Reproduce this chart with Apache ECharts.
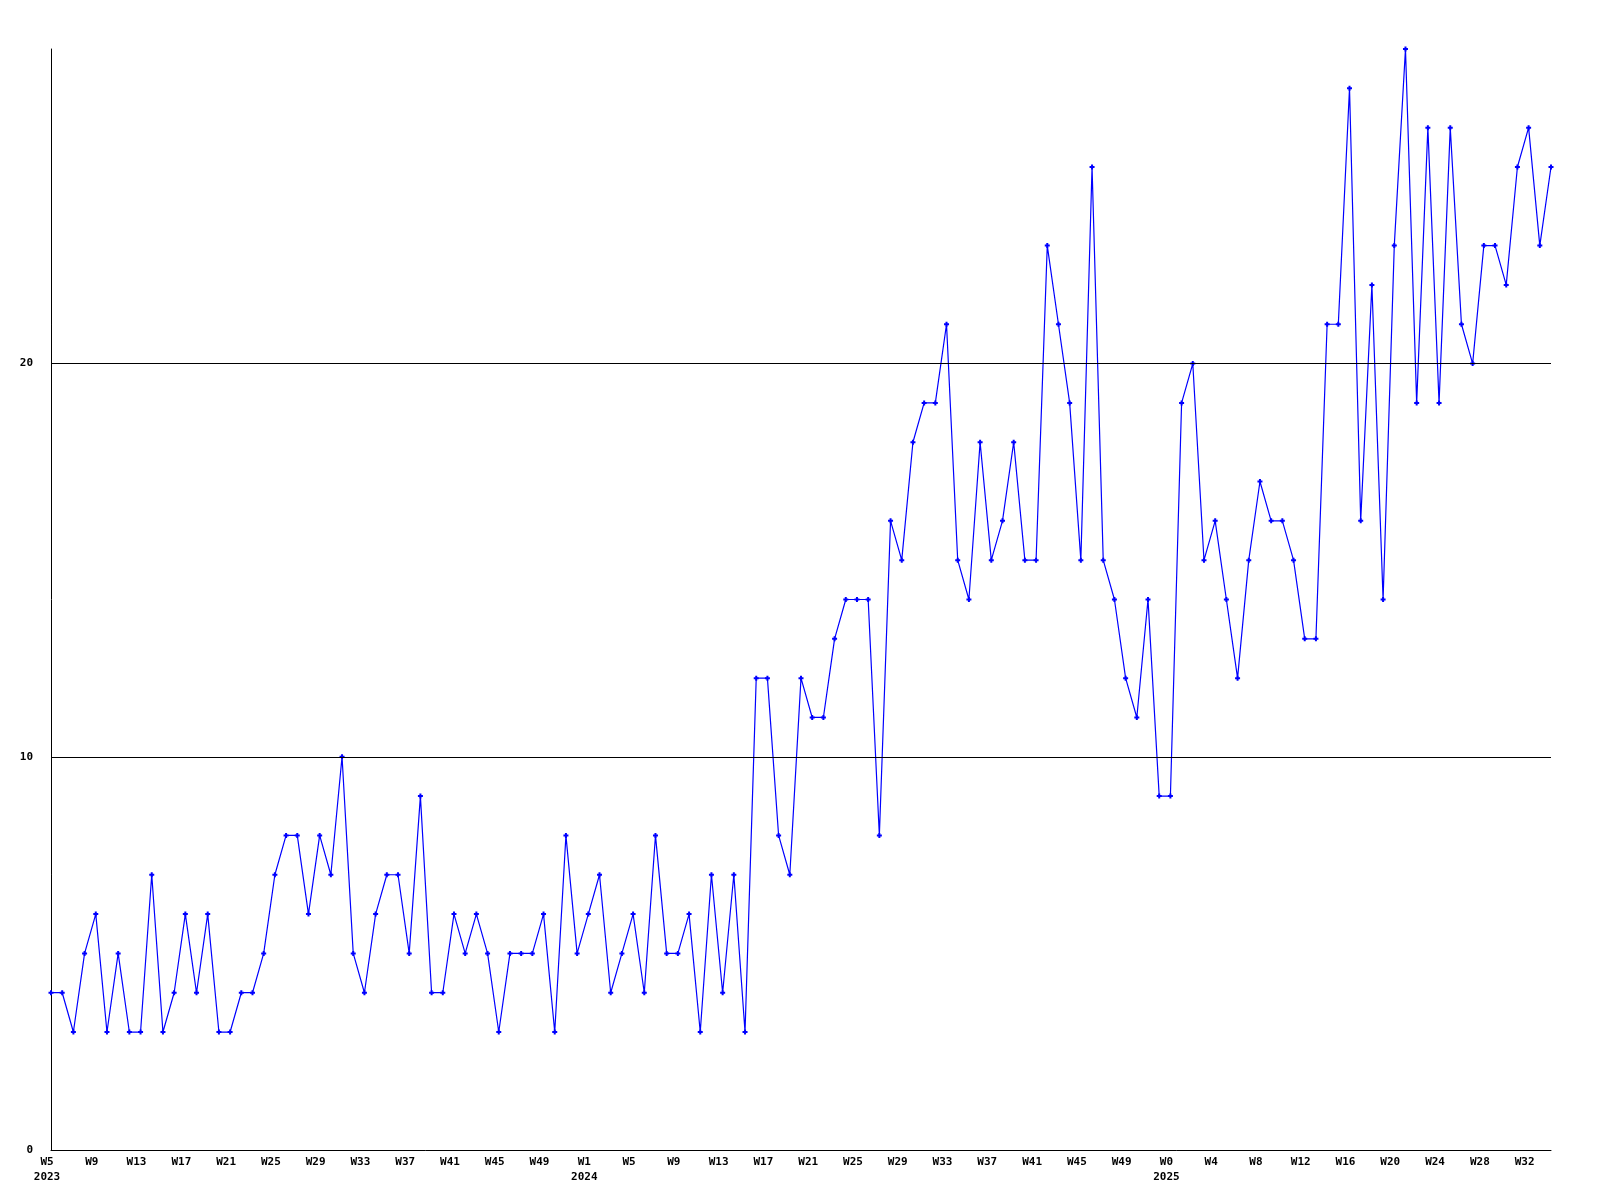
<!DOCTYPE html>
<html>
<head>
<meta charset="utf-8">
<script src="https://cdn.jsdelivr.net/npm/echarts@6/dist/echarts.min.js"></script>
<style>
html,body{margin:0;padding:0;background:#fff;}
#chart{width:1600px;height:1200px;}
</style>
</head>
<body>
<div id="chart"></div>
<script>
// Week labels per year
var weeks2023 = ['W5','W6','W7','W8','W9','W10','W11','W12','W13','W14','W15','W16','W17','W18','W19','W20','W21','W22','W23','W24','W25','W26','W27','W28','W29','W30','W31','W32','W33','W34','W35','W36','W37','W38','W39','W40','W41','W42','W43','W44','W45','W46','W47','W48','W49','W50','W51','W52'];
var weeks2024 = ['W1','W2','W3','W4','W5','W6','W7','W8','W9','W10','W11','W12','W13','W14','W15','W16','W17','W18','W19','W20','W21','W22','W23','W24','W25','W26','W27','W28','W29','W30','W31','W32','W33','W34','W35','W36','W37','W38','W39','W40','W41','W42','W43','W44','W45','W46','W47','W48','W49','W50','W51','W52'];
var weeks2025 = ['W0','W1','W2','W3','W4','W5','W6','W7','W8','W9','W10','W11','W12','W13','W14','W15','W16','W17','W18','W19','W20','W21','W22','W23','W24','W25','W26','W27','W28','W29','W30','W31','W32','W33','W34'];
var years = ['2023','2024','2025'];

// Values per year
var values2023 = [4,4,3,5,6,3,5,3,3,7,3,4,6,4,6,3,3,4,4,5,7,8,8,6,8,7,10,5,4,6,7,7,5,9,4,4,6,5,6,5,3,5,5,5,6,3,8,5];
var values2024 = [6,7,4,5,6,4,8,5,5,6,3,7,4,7,3,12,12,8,7,12,11,11,13,14,14,14,8,16,15,18,19,19,21,15,14,18,15,16,18,15,15,23,21,19,15,25,15,14,12,11,14,9];
var values2025 = [9,19,20,15,16,14,12,15,17,16,16,15,13,13,21,21,27,16,22,14,23,28,19,26,19,26,21,20,23,23,22,25,26,23,25];

var yTicks = [0,10,20];
var yMax = 28;

var categories = weeks2023.concat(weeks2024, weeks2025);
var values = values2023.concat(values2024, values2025);
var yearStart = {};
yearStart[0] = years[0];
yearStart[weeks2023.length] = years[1];
yearStart[weeks2023.length + weeks2024.length] = years[2];

var font = '"DejaVu Sans Mono", "Liberation Mono", monospace';
var chart = echarts.init(document.getElementById('chart'), null, {renderer:'canvas'});
chart.setOption({
  animation: false,
  backgroundColor: '#ffffff',
  grid: {left: 51, right: 49, top: 49, bottom: 50, containLabel: false},
  xAxis: {
    type: 'category',
    data: categories,
    boundaryGap: false,
    axisLine: {show: true, lineStyle: {color: '#000', width: 1}},
    axisTick: {show: false},
    splitLine: {show: false},
    axisLabel: {
      interval: 3,
      margin: 5,
      color: '#000',
      fontFamily: font,
      fontWeight: 'bold',
      fontSize: 11,
      lineHeight: 15,
      padding: [0, 8, 0, 0],
      formatter: function (v, i) {
        return yearStart[i] !== undefined ? v + '\n' + yearStart[i] : v;
      }
    }
  },
  yAxis: {
    type: 'value',
    min: 0,
    max: yMax,
    interval: 10,
    axisLine: {show: true, lineStyle: {color: '#000', width: 1}},
    axisTick: {show: false},
    splitLine: {show: false},
    axisLabel: {
      margin: 18,
      color: '#000',
      fontFamily: font,
      fontWeight: 'bold',
      fontSize: 11,
      padding: [0, 0, 3, 0],
      showMaxLabel: false,
      formatter: function (v) { return yTicks.indexOf(v) >= 0 ? String(v) : ''; }
    }
  },
  series: [{
    type: 'line',
    data: values,
    symbol: 'path://M1.5,0H3.5V1.5H5V3.5H3.5V5H1.5V3.5H0V1.5H1.5Z',
    symbolSize: 5,
    showAllSymbol: true,
    itemStyle: {color: '#0000ff'},
    lineStyle: {color: '#0000ff', width: 1.2},
    markLine: {
      silent: true,
      symbol: 'none',
      label: {show: false},
      lineStyle: {color: '#000', type: 'solid', width: 1},
      data: yTicks.filter(function (t) { return t > 0; }).map(function (t) { return {yAxis: t}; })
    },
    z: 3
  }]
});
</script>
</body>
</html>
